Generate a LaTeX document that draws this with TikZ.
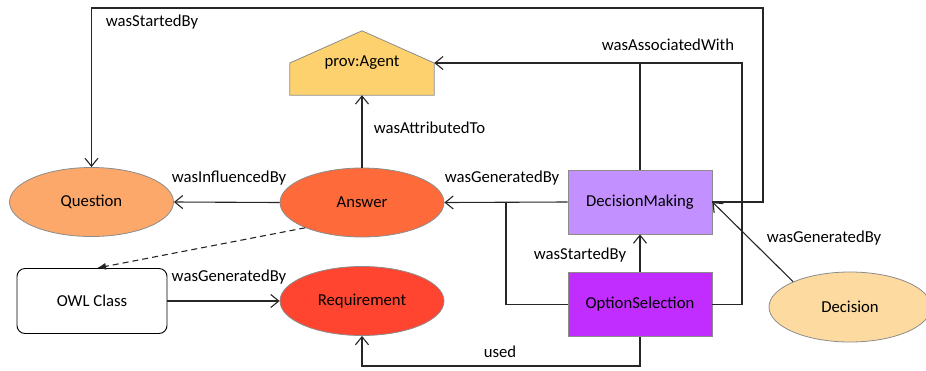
\documentclass[tikz,border=0pt]{standalone}
\usepackage{fontspec}
\setmainfont{Carlito}
\usetikzlibrary{arrows.meta,calc,shapes.geometric,backgrounds}

\definecolor{edgegray}{HTML}{8C8C8C}
\definecolor{linecol}{HTML}{262626}
\definecolor{agentfill}{HTML}{FDD26E}
\definecolor{questionfill}{HTML}{FCA86B}
\definecolor{answerfill}{HTML}{FF6A3A}
\definecolor{reqfill}{HTML}{FF4530}
\definecolor{dmfill}{HTML}{C291FF}
\definecolor{osfill}{HTML}{C22DFF}
\definecolor{decisionfill}{HTML}{FDDBA0}

\tikzset{
  entity/.style={ellipse, draw=edgegray, line width=0.8pt, inner sep=0pt,
                 minimum width=164pt, minimum height=69pt},
  activity/.style={rectangle, draw=edgegray, line width=0.8pt, inner sep=0pt,
                   minimum width=144pt, minimum height=64pt},
  classbox/.style={rectangle, rounded corners=8pt, draw=black, line width=0.9pt,
                   fill=white, inner sep=0pt, minimum width=150pt, minimum height=65pt},
  lbl/.style={inner sep=0pt},
  link/.style={draw=linecol, line width=1.1pt},
  rel/.style={link, -{Straight Barb[length=8pt,width=13pt]}},
}

\begin{document}
\begin{tikzpicture}[x=1pt, y=-1pt, font=\fontsize{16.7}{20}\selectfont]
\useasboundingbox (0,0) rectangle (926,370);

% nodes
\node[minimum width=144pt, minimum height=64pt, inner sep=0pt] (agent) at (362,63) {prov:Agent};
\begin{scope}[on background layer]
  \filldraw[fill=agentfill, draw=edgegray, line width=0.8pt]
    (agent.south west) -- (agent.south east) -- (agent.east)
    -- (agent.north) -- (agent.west) -- cycle;
\end{scope}

\node[entity, fill=questionfill] (question) at (91.5,202) {Question};
\node[entity, fill=answerfill] (answer) at (362,202.5) {Answer};
\node[entity, fill=reqfill] (req) at (362,301) {Requirement};
\node[classbox] (owl) at (92,301) {OWL Class};
\node[activity, fill=dmfill] (dm) at (640,202) {DecisionMaking};
\node[activity, fill=osfill] (os) at (640,304.5) {OptionSelection};
\node[entity, fill=decisionfill, minimum width=162pt, minimum height=70pt] (decision) at (850,307) {Decision};

% junction points of the routed connectors
\coordinate (jTop) at (763,8);
\coordinate (jAssoc) at (742,63);
\coordinate (jGen) at (506,202);
\coordinate (jUsed) at (362,366);

% connectors
\draw[rel] (answer.north) -- (agent.south);
\draw[rel] (answer.west) -- (question.east);
\draw[rel] (dm.west) -- (answer.east);
\draw[link] (os.west) -| (jGen);
\draw[rel] (dm.north) |- (agent.east);
\draw[link] (os.east) -| (jAssoc) -- (dm.north |- jAssoc);
\draw[rel] (dm.east) -| (jTop) -| (question.north);
\draw[rel] (os.north) -- (dm.south);
\draw[rel] (decision.156) -- (dm.east);
\draw[rel] (os.south) |- (jUsed) -- (req.south);
\draw[rel] (owl.east) -- (req.west);
\draw[link, dash pattern=on 6pt off 4pt, -{Latex[length=9pt,width=7pt]}]
  (answer.204) -- ($(owl.north)+(5,0)$);

% connector labels
\node[lbl] (lStartQ) at (152,22) {wasStartedBy};
\node[lbl] (lAttr) at (429.5,128) {wasAttributedTo};
\node[lbl] (lInfl) at (229,178) {wasInfluencedBy};
\node[lbl] (lGenA) at (502,178) {wasGeneratedBy};
\node[lbl] (lAssoc) at (668,45) {wasAssociatedWith};
\node[lbl] (lGenO) at (229,277) {wasGeneratedBy};
\node[lbl] (lStartO) at (580,255) {wasStartedBy};
\node[lbl] (lGenD) at (824,238) {wasGeneratedBy};
\node[lbl] (lUsed) at (500,352) {used};
\end{tikzpicture}
\end{document}
